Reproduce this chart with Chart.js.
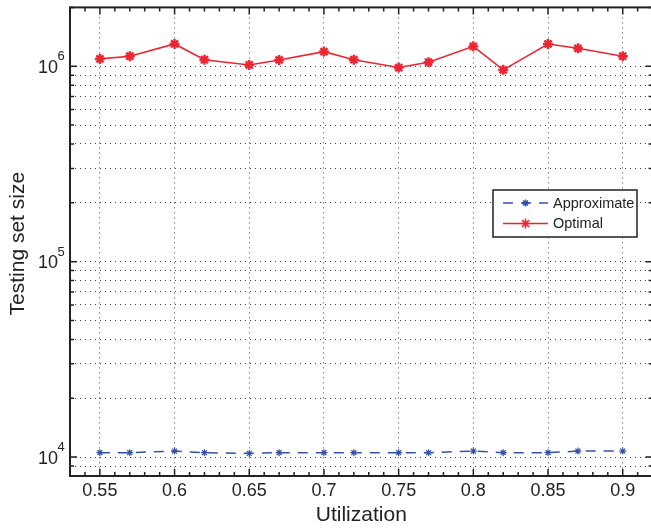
<!DOCTYPE html>
<html><head><meta charset="utf-8">
<script src="https://cdn.jsdelivr.net/npm/chart.js@4"></script>
<style>
html,body{margin:0;padding:0;background:#fff;overflow:hidden;width:651px;height:530px}
#wrap{width:660px;height:530px;position:relative}
</style></head>
<body><div id="wrap"><canvas id="c"></canvas></div>
<script>
const utilization = [0.55,0.57,0.6,0.62,0.65,0.67,0.7,0.72,0.75,0.77,0.8,0.82,0.85,0.87,0.9];
const approximate = [10530,10530,10730,10530,10440,10530,10530,10530,10530,10530,10730,10530,10530,10730,10730];
const optimal = [1090000,1125000,1300000,1080000,1015000,1077000,1188000,1080000,985000,1048000,1264000,958000,1300000,1235000,1125000];
const xTickValues = [0.55,0.6,0.65,0.7,0.75,0.8,0.85,0.9];
const xMinorValues = [0.53,0.54,0.56,0.57,0.58,0.59,0.61,0.62,0.63,0.64,0.66,0.67,0.68,0.69,0.71,0.72,0.73,0.74,0.76,0.77,0.78,0.79,0.81,0.82,0.83,0.84,0.86,0.87,0.88,0.89,0.91];
const yMajorValues = [1e4,1e5,1e6];
const yMajorExponents = ['4','5','6'];
const yMinorValues = [8000,9000,2e4,3e4,4e4,5e4,6e4,7e4,8e4,9e4,2e5,3e5,4e5,5e5,6e5,7e5,8e5,9e5,2e6];
const seriesNames = ['Approximate','Optimal'];

const RED = '#ec2530', BLUE = '#3451a8', INK = '#222222';
const FONT = '"Liberation Sans", Arial, Helvetica, sans-serif';

const framePlugin = {
  id: 'frame',
  afterDraw(chart) {
    const ctx = chart.ctx, a = chart.chartArea;
    const xs = chart.scales.x, ys = chart.scales.y;
    ctx.save();
    ctx.strokeStyle = INK;
    ctx.lineWidth = 1.5;
    ctx.beginPath();
    const tick = (x1,y1,x2,y2) => { ctx.moveTo(x1,y1); ctx.lineTo(x2,y2); };
    xTickValues.forEach(v => { const x = xs.getPixelForValue(v); tick(x,a.bottom,x,a.bottom-7); tick(x,a.top,x,a.top+7); });
    xMinorValues.forEach(v => { const x = xs.getPixelForValue(v); tick(x,a.bottom,x,a.bottom-4); tick(x,a.top,x,a.top+4); });
    yMajorValues.forEach(v => { const y = ys.getPixelForValue(v); tick(a.left,y,a.left+7,y); tick(a.right,y,a.right-7,y); });
    yMinorValues.forEach(v => { const y = ys.getPixelForValue(v); tick(a.left,y,a.left+4,y); tick(a.right,y,a.right-4,y); });
    ctx.stroke();
    ctx.lineWidth = 2;
    ctx.strokeRect(a.left, a.top, a.right - a.left, a.bottom - a.top);

    // y tick labels with superscripts
    ctx.fillStyle = INK;
    yMajorValues.forEach((v,i) => {
      const y = ys.getPixelForValue(v);
      ctx.font = '18px ' + FONT;
      ctx.textAlign = 'right'; ctx.textBaseline = 'alphabetic';
      ctx.fillText('10', 58, y + 6.5);
      ctx.font = '13px ' + FONT;
      ctx.textAlign = 'left';
      ctx.fillText(yMajorExponents[i], 57.5, y - 6);
    });

    // axis titles
    ctx.font = '21px ' + FONT;
    ctx.textAlign = 'center'; ctx.textBaseline = 'middle';
    ctx.fillText('Utilization', (a.left + a.right) / 2, 515);
    ctx.save();
    ctx.translate(18, (a.top + a.bottom) / 2 + 2);
    ctx.rotate(-Math.PI / 2);
    ctx.fillText('Testing set size', 0, 0);
    ctx.restore();

    // legend
    const L = 493, T = 190, W = 144, H = 47;
    ctx.fillStyle = '#fff';
    ctx.fillRect(L, T, W, H);
    ctx.lineWidth = 1.5; ctx.strokeStyle = INK;
    ctx.strokeRect(L, T, W, H);
    const ds = chart.data.datasets;
    const rows = [203, 223.5];
    ds.forEach((d, i) => {
      const y = rows[i];
      ctx.save();
      ctx.strokeStyle = d.borderColor; ctx.lineWidth = d.borderWidth;
      ctx.setLineDash(d.borderDash || []);
      ctx.beginPath(); ctx.moveTo(503, y); ctx.lineTo(548, y); ctx.stroke();
      ctx.setLineDash([]);
      ctx.strokeStyle = d.pointBorderColor; ctx.fillStyle = d.pointBorderColor;
      Chart.helpers.drawPoint(ctx, {pointStyle: 'star', radius: d.pointRadius, borderWidth: d.pointBorderWidth, rotation: 0}, 525.5, y);
      ctx.restore();
      ctx.fillStyle = INK;
      ctx.font = '14.5px ' + FONT;
      ctx.textAlign = 'left'; ctx.textBaseline = 'middle';
      ctx.fillText(d.label, 553, y + 0.5);
    });
    ctx.restore();
  }
};

new Chart(document.getElementById('c'), {
  type: 'line',
  data: {
    labels: utilization,
    datasets: [
      { label: seriesNames[0], data: utilization.map((x,i) => ({x, y: approximate[i]})),
        borderColor: BLUE, backgroundColor: BLUE, borderWidth: 1.5, borderDash: [10,8],
        pointStyle: 'star', pointRadius: 3.5, pointBorderWidth: 1.2, pointBorderColor: BLUE, fill: false, tension: 0 },
      { label: seriesNames[1], data: utilization.map((x,i) => ({x, y: optimal[i]})),
        borderColor: RED, backgroundColor: RED, borderWidth: 1.6,
        pointStyle: 'star', pointRadius: 5, pointBorderWidth: 2.4, pointBorderColor: RED, fill: false, tension: 0 }
    ]
  },
  options: {
    responsive: true, maintainAspectRatio: false, animation: false,
    layout: { padding: { left: 0, top: 6, right: 7, bottom: 0 } },
    plugins: { legend: { display: false }, tooltip: { enabled: false } },
    scales: {
      x: {
        type: 'linear', min: 0.53, max: 0.92,
        afterBuildTicks: s => { s.ticks = xTickValues.map(v => ({ value: v })); },
        afterFit: s => { s.height = 54; },
        grid: { color: 'rgba(0,0,0,0.75)', lineWidth: 1, drawTicks: false },
        border: { display: false, dash: [1,4] },
        ticks: { font: { family: FONT, size: 18 }, color: INK, padding: 4, maxRotation: 0, autoSkip: false,
                 callback: v => String(v) }
      },
      y: {
        type: 'logarithmic', min: 8000, max: 2e6,
        afterBuildTicks: s => { s.ticks = yMajorValues.concat(yMinorValues).sort((a,b)=>a-b).map(v => ({ value: v })); },
        afterFit: s => { s.width = 70; },
        grid: { color: 'rgba(0,0,0,0.75)', lineWidth: 1, drawTicks: false },
        border: { display: false, dash: [1,4] },
        ticks: { display: false }
      }
    }
  },
  plugins: [framePlugin]
});
</script>
</body></html>
